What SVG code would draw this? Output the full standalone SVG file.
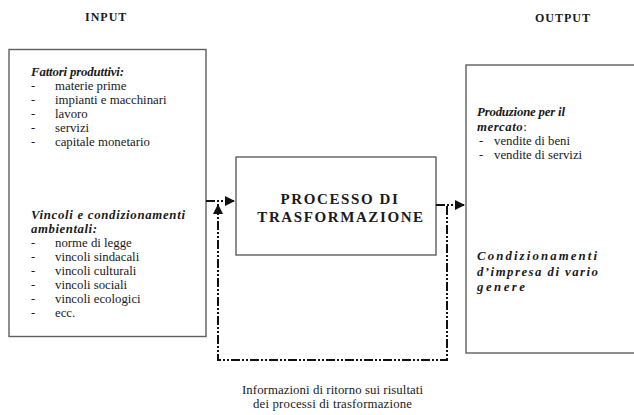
<svg xmlns="http://www.w3.org/2000/svg" width="634" height="415" viewBox="0 0 634 415">
  <style>
    .box { fill: #ffffff; stroke: #5f5f5f; stroke-width: 1.4; }
    .title { font-family: "Liberation Serif", "Times New Roman", serif; font-size: 12px; font-weight: bold; letter-spacing: 1px; fill: #1a1a1a; }
    .head { font-family: "Liberation Serif", "Times New Roman", serif; font-size: 12.8px; font-weight: bold; font-style: italic; fill: #1a1a1a; }
    .item { font-family: "Liberation Serif", "Times New Roman", serif; font-size: 12.8px; fill: #1a1a1a; }
    .proc { font-family: "Liberation Serif", "Times New Roman", serif; font-size: 15px; font-weight: bold; letter-spacing: 1.6px; fill: #1a1a1a; text-anchor: middle; }
    .flow { fill: none; stroke: #111111; stroke-width: 2; stroke-dasharray: 9 2 2 2 2 2; }
  </style>
  <defs>
    <marker id="arrow" viewBox="0 0 10 10" refX="10" refY="5" markerWidth="5" markerHeight="5" orient="auto" markerUnits="strokeWidth">
      <path d="M0,0 L10,5 L0,10 z" fill="#111111"/>
    </marker>
  </defs>

  <!-- column titles -->
  <text class="title" x="85" y="21">INPUT</text>
  <text class="title" x="535" y="22">OUTPUT</text>

  <!-- input factors -->
  <g id="input">
    <rect class="box" x="9" y="49.5" width="197" height="287"/>
    <text class="head" x="31" y="76" textLength="93" lengthAdjust="spacing">Fattori produttivi:</text>
    <g class="item">
      <text x="31" y="90">-</text><text x="55" y="90">materie prime</text>
      <text x="31" y="104">-</text><text x="55" y="104">impianti e macchinari</text>
      <text x="31" y="118">-</text><text x="55" y="118">lavoro</text>
      <text x="31" y="132">-</text><text x="55" y="132">servizi</text>
      <text x="31" y="146">-</text><text x="55" y="146">capitale monetario</text>
    </g>
    <text class="head" x="31" y="218.5" textLength="154" lengthAdjust="spacing">Vincoli e condizionamenti</text>
    <text class="head" x="31" y="232.5" textLength="66" lengthAdjust="spacing">ambientali:</text>
    <g class="item">
      <text x="31" y="246.5">-</text><text x="55" y="246.5">norme di legge</text>
      <text x="31" y="260.5">-</text><text x="55" y="260.5">vincoli sindacali</text>
      <text x="31" y="274.5">-</text><text x="55" y="274.5">vincoli culturali</text>
      <text x="31" y="288.5">-</text><text x="55" y="288.5">vincoli sociali</text>
      <text x="31" y="302.5">-</text><text x="55" y="302.5">vincoli ecologici</text>
      <text x="31" y="316.5">-</text><text x="55" y="316.5">ecc.</text>
    </g>
  </g>

  <!-- transformation process -->
  <g id="process">
    <rect class="box" x="236" y="157" width="200" height="98"/>
    <text class="proc" x="340" y="204">PROCESSO DI</text>
    <text class="proc" x="341" y="222">TRASFORMAZIONE</text>
  </g>

  <!-- output -->
  <g id="output">
    <rect class="box" x="466" y="65" width="180" height="288"/>
    <text class="head" x="477" y="116" textLength="88" lengthAdjust="spacing">Produzione per il</text>
    <text x="477" y="130.5"><tspan class="head" letter-spacing="0.5">mercato</tspan><tspan class="item">:</tspan></text>
    <g class="item">
      <text x="479" y="145">-</text><text x="494" y="145">vendite di beni</text>
      <text x="479" y="159">-</text><text x="494" y="159">vendite di servizi</text>
    </g>
    <text class="head" x="477" y="260" textLength="120" lengthAdjust="spacing">Condizionamenti</text>
    <text class="head" x="477" y="275.5" textLength="121" lengthAdjust="spacing">d’impresa di vario</text>
    <text class="head" x="477" y="291" textLength="48" lengthAdjust="spacing">genere</text>
  </g>

  <!-- feedback caption -->
  <g id="feedback-label" class="item">
    <text x="242" y="394" textLength="181" lengthAdjust="spacing">Informazioni di ritorno sui risultati</text>
    <text x="253" y="408" textLength="159" lengthAdjust="spacing">dei processi di trasformazione</text>
  </g>

  <!-- connectors -->
  <g id="connectors">
    <line class="flow" x1="206" y1="201" x2="235" y2="201" marker-end="url(#arrow)"/>
    <line class="flow" x1="436" y1="205" x2="465" y2="205" marker-end="url(#arrow)"/>
    <polyline class="flow" points="447,206 447,360 218,360 218,204" marker-end="url(#arrow)"/>
  </g>
</svg>
